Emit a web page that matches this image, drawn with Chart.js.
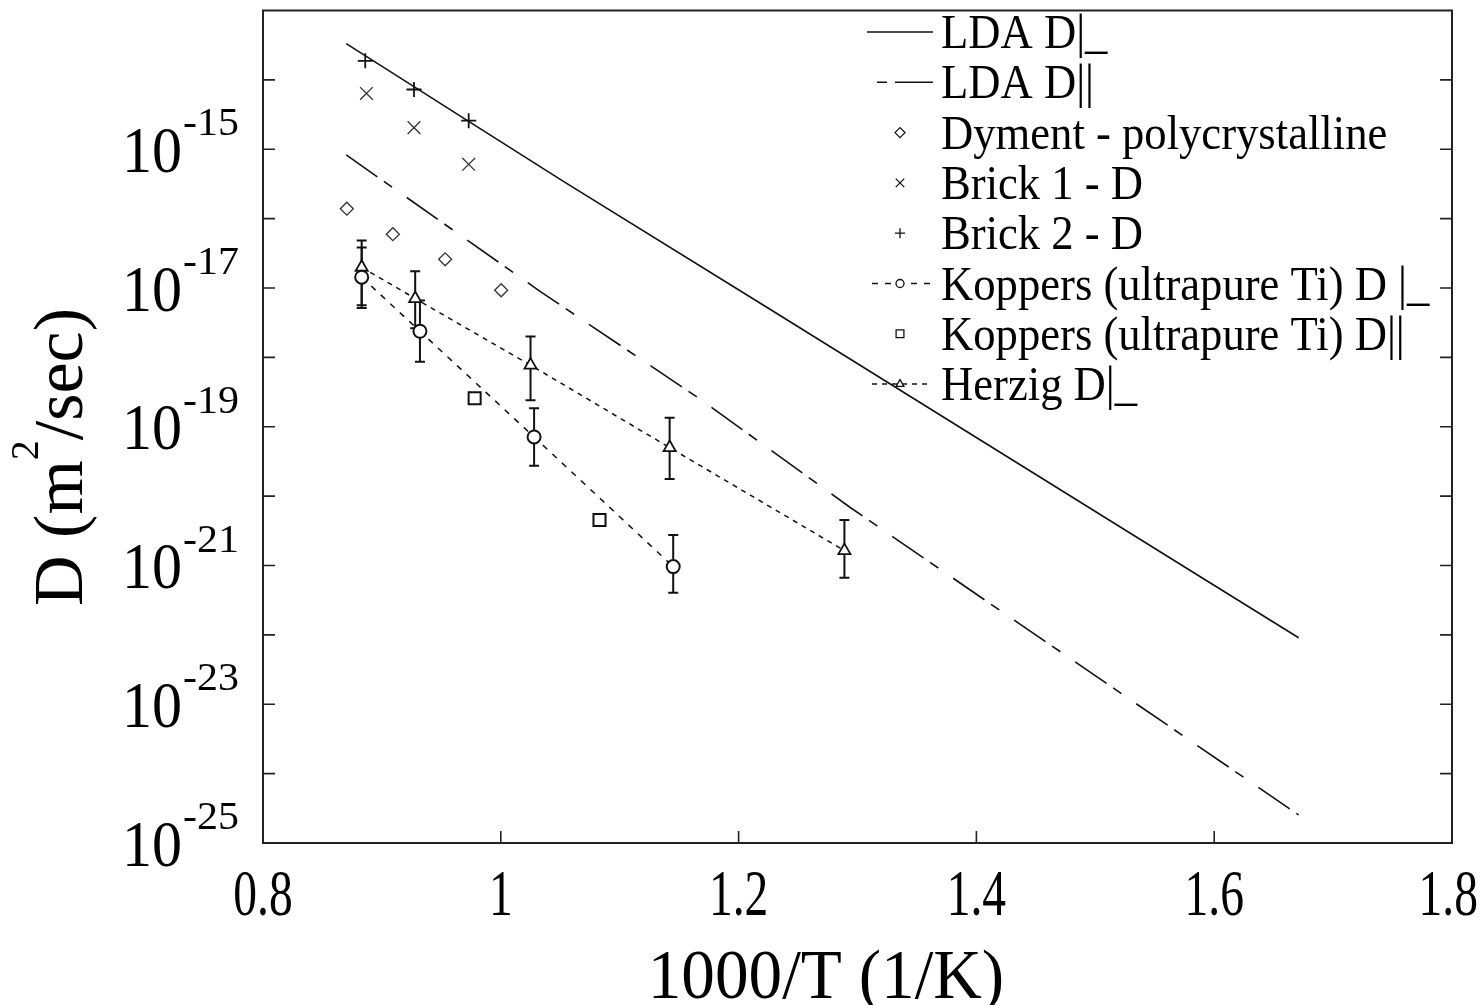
<!DOCTYPE html>
<html>
<head>
<meta charset="utf-8">
<title>Ti diffusion</title>
<script src="https://cdn.jsdelivr.net/npm/chart.js@4.4.1/dist/chart.umd.min.js"></script>
<style>
  html, body { margin: 0; padding: 0; background: #fff; }
  canvas { display: block; }
</style>
</head>
<body>
<canvas id="chart" width="1481" height="1005"></canvas>
<script>
// x = 1000/T (1/K), D in m^2/sec
const ldaPerpX = [0.870, 0.972, 1.053, 1.221, 1.589, 1.671];
const ldaPerpD = [3.33e-14, 2.58e-15, 3.42e-16, 5.64e-18, 6.76e-22, 9.10e-23];

const ldaParX = [0.870, 1.033, 1.168, 1.293, 1.420, 1.671];
const ldaParD = [8.28e-16, 8.95e-18, 2.48e-19, 7.03e-21, 2.24e-22, 2.54e-25];

const dymentX = [0.8705, 0.9092, 0.9532, 1.0003];
const dymentD = [1.39e-16, 5.97e-17, 2.59e-17, 9.27e-18];

const brick1X = [0.887, 0.927, 0.973];
const brick1D = [6.37e-15, 2.05e-15, 6.07e-16];

const brick2X = [0.886, 0.927, 0.973];
const brick2D = [1.88e-14, 7.26e-15, 2.58e-15];

const koppersPerpX = [0.883, 0.932, 1.028, 1.145];
const koppersPerpD = [1.43e-17, 2.38e-18, 7.13e-20, 9.64e-22];
const koppersPerpLo = [5.15e-18, 8.63e-19, 2.73e-20, 4.04e-22];
const koppersPerpHi = [3.85e-17, 6.59e-18, 1.85e-19, 2.75e-21];

const koppersParX = [0.978, 1.083];
const koppersParD = [2.57e-19, 4.53e-21];

const herzigX = [0.883, 0.928, 1.025, 1.142, 1.289];
const herzigD = [1.99e-17, 7.05e-18, 7.73e-19, 5.01e-20, 1.64e-21];
const herzigLo = [5.64e-18, 2.63e-18, 2.40e-19, 1.76e-20, 6.64e-22];
const herzigHi = [4.85e-17, 1.75e-17, 2.00e-18, 1.35e-19, 4.53e-21];

// axis ticks
const xTicks = [0.8, 1.0, 1.2, 1.4, 1.6, 1.8];
const yTickExps = [-25, -24, -23, -22, -21, -20, -19, -18, -17, -16, -15, -14, -13];
const yLabelExps = [-25, -23, -21, -19, -17, -15];

const legendNames = [
  "LDA D|_",
  "LDA D||",
  "Dyment - polycrystalline",
  "Brick 1 - D",
  "Brick 2 - D",
  "Koppers (ultrapure Ti) D |_",
  "Koppers (ultrapure Ti) D||",
  "Herzig D|_",
];

const SERIF = "'Liberation Serif', 'Times New Roman', serif";
const INK = "#111";

function pts(xs, ys) {
  return xs.map((x, i) => ({ x: x, y: ys[i] }));
}

const datasets = [
  {
    label: legendNames[0], data: pts(ldaPerpX, ldaPerpD),
    showLine: true, borderColor: INK, borderWidth: 1.6, pointRadius: 0, tension: 0,
  },
  {
    label: legendNames[1], data: pts(ldaParX, ldaParD),
    showLine: true, borderColor: INK, borderWidth: 1.6, borderDash: [38, 8, 10, 18],
    pointRadius: 0, tension: 0,
  },
  {
    label: legendNames[2], data: pts(dymentX, dymentD), showLine: false,
    pointStyle: "rectRot", pointRadius: 6.5, pointBorderWidth: 1.3,
    pointBorderColor: "#333", pointBackgroundColor: "#fff", legendRadius: 5,
  },
  {
    label: legendNames[3], data: pts(brick1X, brick1D), showLine: false,
    pointStyle: "crossRot", pointRadius: 9, pointBorderWidth: 1.3,
    pointBorderColor: "#333", legendRadius: 6,
  },
  {
    label: legendNames[4], data: pts(brick2X, brick2D), showLine: false,
    pointStyle: "cross", pointRadius: 7.5, pointBorderWidth: 1.8,
    pointBorderColor: INK, legendRadius: 5,
  },
  {
    label: legendNames[5], data: pts(koppersPerpX, koppersPerpD),
    showLine: true, borderColor: INK, borderWidth: 1.5, borderDash: [6, 7], tension: 0,
    pointStyle: "circle", pointRadius: 6.5, pointBorderWidth: 2,
    pointBorderColor: INK, pointBackgroundColor: "#fff", legendRadius: 4,
    errLo: koppersPerpLo, errHi: koppersPerpHi,
  },
  {
    label: legendNames[6], data: pts(koppersParX, koppersParD), showLine: false,
    pointStyle: "rect", pointRadius: 8.5, pointBorderWidth: 2,
    pointBorderColor: INK, pointBackgroundColor: "#fff", legendRadius: 5.5,
  },
  {
    label: legendNames[7], data: pts(herzigX, herzigD),
    showLine: true, borderColor: INK, borderWidth: 1.5, borderDash: [5, 5], tension: 0,
    pointStyle: "triangle", pointRadius: 7, pointBorderWidth: 1.8,
    pointBorderColor: INK, pointBackgroundColor: "#fff", legendRadius: 4.5,
    errLo: herzigLo, errHi: herzigHi,
  },
];

// text squeezed horizontally like the typeset figure
function drawText(ctx, str, x, y, size, align, sx) {
  ctx.save();
  ctx.translate(x, y);
  ctx.scale(sx || 1, 1);
  ctx.font = size + "px " + SERIF;
  ctx.textAlign = align || "left";
  ctx.textBaseline = "alphabetic";
  ctx.fillStyle = "#000";
  ctx.fillText(str, 0, 0);
  ctx.restore();
}

function textWidth(ctx, str, size, sx) {
  ctx.save();
  ctx.font = size + "px " + SERIF;
  const w = ctx.measureText(str).width * (sx || 1);
  ctx.restore();
  return w;
}

function marker(ctx, style, r, bw, x, y) {
  ctx.save();
  ctx.fillStyle = "#fff";
  ctx.strokeStyle = INK;
  ctx.lineWidth = bw;
  ctx.setLineDash([]);
  Chart.helpers.drawPoint(ctx, { pointStyle: style, radius: r, borderWidth: bw, rotation: 0 }, x, y);
  ctx.restore();
}

const errorBars = {
  id: "errorBars",
  beforeDatasetsDraw(chart) {
    const ctx = chart.ctx;
    const xs = chart.scales.x, ys = chart.scales.y;
    ctx.save();
    ctx.strokeStyle = INK;
    ctx.lineWidth = 2;
    ctx.setLineDash([]);
    chart.data.datasets.forEach((ds) => {
      if (!ds.errLo) return;
      ds.data.forEach((p, i) => {
        const px = xs.getPixelForValue(p.x);
        const y1 = ys.getPixelForValue(ds.errHi[i]);
        const y2 = ys.getPixelForValue(ds.errLo[i]);
        ctx.beginPath();
        ctx.moveTo(px, y1); ctx.lineTo(px, y2);
        ctx.moveTo(px - 5, y1); ctx.lineTo(px + 5, y1);
        ctx.moveTo(px - 5, y2); ctx.lineTo(px + 5, y2);
        ctx.stroke();
      });
    });
    ctx.restore();
  },
};

const axesFrame = {
  id: "axesFrame",
  afterDraw(chart) {
    const ctx = chart.ctx;
    const a = chart.chartArea;
    const xs = chart.scales.x, ys = chart.scales.y;

    ctx.save();
    ctx.setLineDash([]);
    ctx.strokeStyle = "#222";
    ctx.lineWidth = 2;
    ctx.strokeRect(a.left, a.top, a.right - a.left, a.bottom - a.top);

    // inward ticks: every decade on both sides, x ticks on the bottom
    ctx.lineWidth = 1.6;
    ctx.beginPath();
    yTickExps.forEach((e) => {
      if (e === yTickExps[0] || e === yTickExps[yTickExps.length - 1]) return;
      const py = ys.getPixelForValue(Math.pow(10, e));
      ctx.moveTo(a.left, py); ctx.lineTo(a.left + 12, py);
      ctx.moveTo(a.right, py); ctx.lineTo(a.right - 12, py);
    });
    xTicks.forEach((v, i) => {
      if (i === 0 || i === xTicks.length - 1) return;
      const px = xs.getPixelForValue(v);
      ctx.moveTo(px, a.bottom); ctx.lineTo(px, a.bottom - 12);
    });
    ctx.stroke();
    ctx.restore();

    // y tick labels 10^n
    yLabelExps.forEach((e) => {
      const py = ys.getPixelForValue(Math.pow(10, e));
      drawText(ctx, "10", a.left - 81, py + 22.5, 66, "right", 0.91);
      drawText(ctx, "-" + Math.abs(e), a.left - 80, py - 14, 40, "left", 1.05);
    });

    // x tick labels, kept inside the canvas
    xTicks.forEach((v) => {
      const s = String(Number(v.toFixed(1)));
      const half = textWidth(ctx, s, 66, 0.72) / 2;
      const px = Math.min(xs.getPixelForValue(v), chart.width - 3 - half);
      drawText(ctx, s, px, a.bottom + 72, 66, "center", 0.72);
    });

    // x title
    drawText(ctx, "1000/T (1/K)", 826, 998, 70, "center", 0.96);

    // y title, rotated, with superscript 2
    ctx.save();
    ctx.translate(82, 457);
    ctx.rotate(-Math.PI / 2);
    const p1 = "D (m", p2 = "2", p3 = "/sec)";
    const w1 = textWidth(ctx, p1, 70), w2 = textWidth(ctx, p2, 40), w3 = textWidth(ctx, p3, 70);
    let x0 = -(w1 + w2 + w3) / 2;
    drawText(ctx, p1, x0, 0, 70, "left");
    drawText(ctx, p2, x0 + w1, -44, 40, "left");
    drawText(ctx, p3, x0 + w1 + w2, 0, 70, "left");
    ctx.restore();

    // legend, top right inside the frame
    const rowY0 = 32, rowStep = 50.3, markX = 900, textX = 941;
    chart.data.datasets.forEach((ds, i) => {
      const y = rowY0 + i * rowStep;
      ctx.save();
      ctx.strokeStyle = INK;
      if (ds.showLine) {
        ctx.lineWidth = ds.borderWidth;
        ctx.setLineDash(ds.borderDash || []);
        ctx.beginPath();
        if (ds.pointRadius) {
          ctx.moveTo(872, y); ctx.lineTo(932, y);
        } else if (ds.borderDash) {
          ctx.moveTo(933, y); ctx.lineTo(877, y);
        } else {
          ctx.moveTo(867, y); ctx.lineTo(933, y);
        }
        ctx.stroke();
      }
      ctx.restore();
      if (ds.pointRadius) {
        marker(ctx, ds.pointStyle, ds.legendRadius, 1.3, markX, y);
      }
      drawText(ctx, ds.label, textX, y + 16, 48, "left", 0.93);
    });
  },
};

new Chart(document.getElementById("chart"), {
  type: "scatter",
  data: { datasets: datasets },
  options: {
    responsive: false,
    animation: false,
    devicePixelRatio: 1,
    layout: { padding: { left: 263, top: 8, right: 29, bottom: 162 } },
    plugins: {
      legend: { display: false },
      tooltip: { enabled: false },
    },
    scales: {
      x: { type: "linear", min: 0.8, max: 1.8, display: false },
      y: { type: "logarithmic", min: 1e-25, max: 1e-13, display: false },
    },
  },
  plugins: [errorBars, axesFrame],
});
</script>
</body>
</html>
